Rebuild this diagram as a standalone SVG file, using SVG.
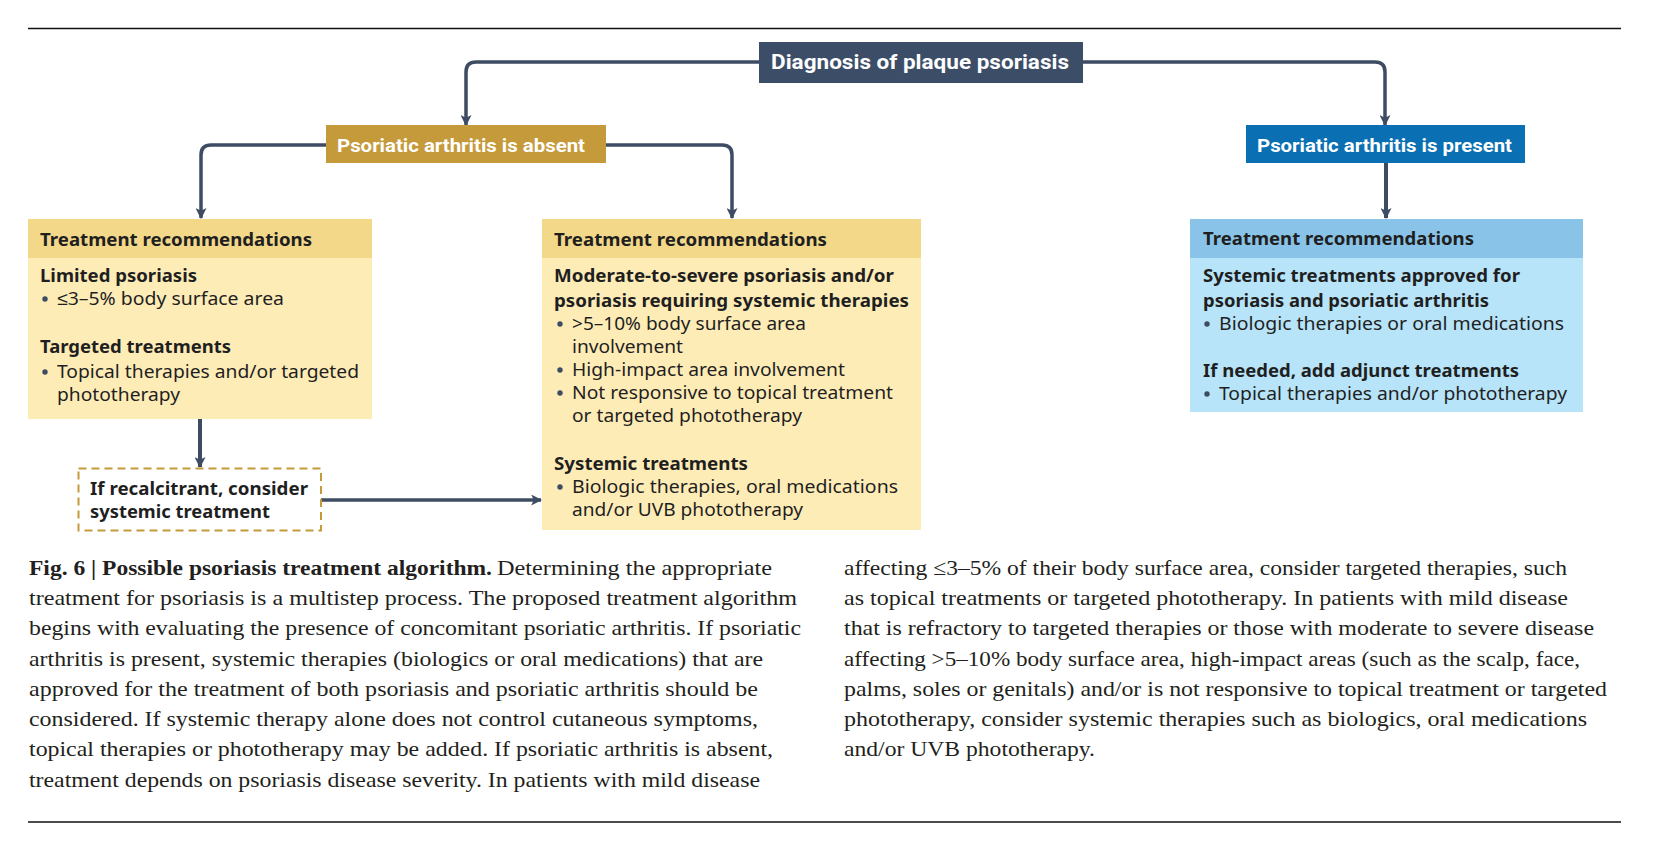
<svg xmlns="http://www.w3.org/2000/svg" width="1655" height="856" viewBox="0 0 1655 856">
<defs>
<marker id="arr" viewBox="0 0 10 10" refX="9" refY="5" markerWidth="11" markerHeight="11" markerUnits="userSpaceOnUse" orient="auto">
<path d="M0,0 L10,5 L0,10 L2.5,5 z" fill="#3d4b63"/>
</marker>
<style>
.rule{stroke:#111;stroke-width:1.5}
.con{fill:none;stroke:#3d4b63;stroke-width:3.5;marker-end:url(#arr)}
.lbl{font-family:Roboto,"Liberation Sans",sans-serif;font-weight:bold;fill:#fff}
.h{font-family:"Noto Sans","Liberation Sans",sans-serif;font-size:18.5px;font-weight:bold;fill:#1f1f1f}
.t{font-family:"Noto Sans","Liberation Sans",sans-serif;font-size:18.5px;fill:#1f1f1f}
.dot{fill:#3d4b63}
.cap{font-family:"Liberation Serif",serif;font-size:22px;fill:#231f20}
.capb{font-family:"Liberation Serif",serif;font-size:22px;font-weight:bold;fill:#231f20}
.yh{fill:#f3d88a}.yb{fill:#feecb7}.bh{fill:#89c4e8}.bb{fill:#b7e4f8}
</style>
</defs>
<line class="rule" x1="28" y1="28.5" x2="1621" y2="28.5"/>
<line class="rule" x1="28" y1="822" x2="1621" y2="822"/>
<g id="connectors">
<path class="con" d="M759,62 H476 Q466,62 466,72 V125"/>
<path class="con" d="M1083,62 H1375 Q1385,62 1385,72 V125"/>
<path class="con" d="M326,145 H211 Q201,145 201,155 V218"/>
<path class="con" d="M606,145 H722 Q732,145 732,155 V218"/>
<path class="con" d="M1386,163 V218" style="stroke-width:4"/>
<path class="con" d="M200,419 V467" style="stroke-width:4"/>
<path class="con" d="M321,500 H541"/>
</g>
<g id="diagnosis">
<rect x="759" y="42" width="324" height="41" fill="#3c4d68"/>
<text class="lbl" x="771" y="69" font-size="21" font-weight="900" textLength="298" lengthAdjust="spacingAndGlyphs">Diagnosis of plaque psoriasis</text>
</g>
<g id="absent">
<rect x="326" y="125" width="280" height="38" fill="#c59a3b"/>
<text class="lbl" x="337" y="152" font-size="19" textLength="248" lengthAdjust="spacingAndGlyphs">Psoriatic arthritis is absent</text>
</g>
<g id="present">
<rect x="1246" y="125" width="279" height="38" fill="#0a70b3"/>
<text class="lbl" x="1257" y="152" font-size="19" textLength="255" lengthAdjust="spacingAndGlyphs">Psoriatic arthritis is present</text>
</g>
<g id="limited">
<rect class="yb" x="28" y="219" width="344" height="200"/>
<rect class="yh" x="28" y="219" width="344" height="39"/>
<text class="h" x="40" y="246" textLength="272" lengthAdjust="spacingAndGlyphs">Treatment recommendations</text>
<text class="h" x="40" y="282" textLength="157" lengthAdjust="spacingAndGlyphs">Limited psoriasis</text>
<circle class="dot" cx="45" cy="299" r="2.7"/>
<text class="t" x="57" y="305" textLength="227" lengthAdjust="spacingAndGlyphs">≤3–5% body surface area</text>
<text class="h" x="40" y="353" textLength="191" lengthAdjust="spacingAndGlyphs">Targeted treatments</text>
<circle class="dot" cx="45" cy="372" r="2.7"/>
<text class="t" x="57" y="378" textLength="302" lengthAdjust="spacingAndGlyphs">Topical therapies and/or targeted</text>
<text class="t" x="57" y="401" textLength="123" lengthAdjust="spacingAndGlyphs">phototherapy</text>
</g>
<g id="recalcitrant">
<rect x="78.5" y="468.5" width="242.5" height="62" fill="#fff" stroke="#c49a3a" stroke-width="2" stroke-dasharray="8 5"/>
<text class="h" x="90" y="495" textLength="218" lengthAdjust="spacingAndGlyphs">If recalcitrant, consider</text>
<text class="h" x="90" y="518" textLength="180" lengthAdjust="spacingAndGlyphs">systemic treatment</text>
</g>
<g id="moderate">
<rect class="yb" x="542" y="219" width="379" height="311"/>
<rect class="yh" x="542" y="219" width="379" height="39"/>
<text class="h" x="554" y="246" textLength="273" lengthAdjust="spacingAndGlyphs">Treatment recommendations</text>
<text class="h" x="554" y="282" textLength="340" lengthAdjust="spacingAndGlyphs">Moderate-to-severe psoriasis and/or</text>
<text class="h" x="554" y="307" textLength="355" lengthAdjust="spacingAndGlyphs">psoriasis requiring systemic therapies</text>
<circle class="dot" cx="560" cy="324" r="2.7"/>
<text class="t" x="572" y="330" textLength="234" lengthAdjust="spacingAndGlyphs">&gt;5–10% body surface area</text>
<text class="t" x="572" y="353" textLength="111" lengthAdjust="spacingAndGlyphs">involvement</text>
<circle class="dot" cx="560" cy="370" r="2.7"/>
<text class="t" x="572" y="376" textLength="273" lengthAdjust="spacingAndGlyphs">High-impact area involvement</text>
<circle class="dot" cx="560" cy="393" r="2.7"/>
<text class="t" x="572" y="399" textLength="321" lengthAdjust="spacingAndGlyphs">Not responsive to topical treatment</text>
<text class="t" x="572" y="422" textLength="230" lengthAdjust="spacingAndGlyphs">or targeted phototherapy</text>
<text class="h" x="554" y="470" textLength="194" lengthAdjust="spacingAndGlyphs">Systemic treatments</text>
<circle class="dot" cx="560" cy="487" r="2.7"/>
<text class="t" x="572" y="493" textLength="326" lengthAdjust="spacingAndGlyphs">Biologic therapies, oral medications</text>
<text class="t" x="572" y="516" textLength="231" lengthAdjust="spacingAndGlyphs">and/or UVB phototherapy</text>
</g>
<g id="systemic">
<rect class="bb" x="1190" y="219" width="393" height="193"/>
<rect class="bh" x="1190" y="219" width="393" height="39"/>
<text class="h" x="1203" y="245" textLength="271" lengthAdjust="spacingAndGlyphs">Treatment recommendations</text>
<text class="h" x="1203" y="282" textLength="317" lengthAdjust="spacingAndGlyphs">Systemic treatments approved for</text>
<text class="h" x="1203" y="307" textLength="286" lengthAdjust="spacingAndGlyphs">psoriasis and psoriatic arthritis</text>
<circle class="dot" cx="1207" cy="324" r="2.7"/>
<text class="t" x="1219" y="330" textLength="345" lengthAdjust="spacingAndGlyphs">Biologic therapies or oral medications</text>
<text class="h" x="1203" y="377" textLength="316" lengthAdjust="spacingAndGlyphs">If needed, add adjunct treatments</text>
<circle class="dot" cx="1207" cy="394" r="2.7"/>
<text class="t" x="1219" y="400" textLength="348" lengthAdjust="spacingAndGlyphs">Topical therapies and/or phototherapy</text>
</g>
<g id="caption">
<text class="capb" x="29" y="575" textLength="463" lengthAdjust="spacingAndGlyphs">Fig. 6 | Possible psoriasis treatment algorithm.</text>
<text class="cap" x="497" y="575" textLength="275" lengthAdjust="spacingAndGlyphs">Determining the appropriate</text>
<text class="cap" x="29" y="605" textLength="768" lengthAdjust="spacingAndGlyphs">treatment for psoriasis is a multistep process. The proposed treatment algorithm</text>
<text class="cap" x="29" y="635" textLength="772" lengthAdjust="spacingAndGlyphs">begins with evaluating the presence of concomitant psoriatic arthritis. If psoriatic</text>
<text class="cap" x="29" y="666" textLength="734" lengthAdjust="spacingAndGlyphs">arthritis is present, systemic therapies (biologics or oral medications) that are</text>
<text class="cap" x="29" y="696" textLength="729" lengthAdjust="spacingAndGlyphs">approved for the treatment of both psoriasis and psoriatic arthritis should be</text>
<text class="cap" x="29" y="726" textLength="729" lengthAdjust="spacingAndGlyphs">considered. If systemic therapy alone does not control cutaneous symptoms,</text>
<text class="cap" x="29" y="756" textLength="744" lengthAdjust="spacingAndGlyphs">topical therapies or phototherapy may be added. If psoriatic arthritis is absent,</text>
<text class="cap" x="29" y="787" textLength="731" lengthAdjust="spacingAndGlyphs">treatment depends on psoriasis disease severity. In patients with mild disease</text>
<text class="cap" x="844" y="575" textLength="723" lengthAdjust="spacingAndGlyphs">affecting ≤3–5% of their body surface area, consider targeted therapies, such</text>
<text class="cap" x="844" y="605" textLength="724" lengthAdjust="spacingAndGlyphs">as topical treatments or targeted phototherapy. In patients with mild disease</text>
<text class="cap" x="844" y="635" textLength="750" lengthAdjust="spacingAndGlyphs">that is refractory to targeted therapies or those with moderate to severe disease</text>
<text class="cap" x="844" y="666" textLength="736" lengthAdjust="spacingAndGlyphs">affecting &gt;5–10% body surface area, high-impact areas (such as the scalp, face,</text>
<text class="cap" x="844" y="696" textLength="763" lengthAdjust="spacingAndGlyphs">palms, soles or genitals) and/or is not responsive to topical treatment or targeted</text>
<text class="cap" x="844" y="726" textLength="743" lengthAdjust="spacingAndGlyphs">phototherapy, consider systemic therapies such as biologics, oral medications</text>
<text class="cap" x="844" y="756" textLength="251" lengthAdjust="spacingAndGlyphs">and/or UVB phototherapy.</text>
</g>
</svg>
